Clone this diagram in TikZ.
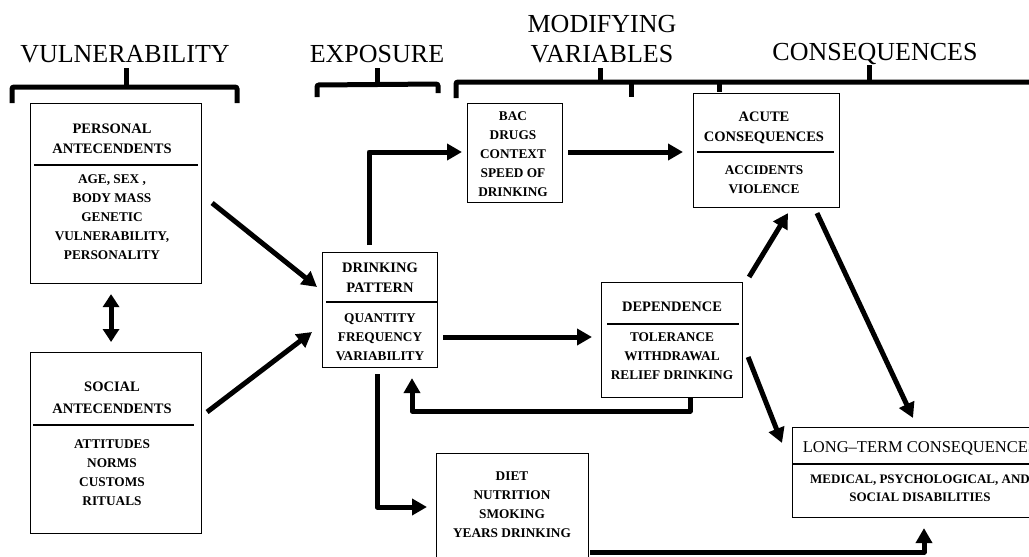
\documentclass[tikz,border=0pt]{standalone}
\usepackage{fontspec}
\setmainfont{Liberation Serif}
\usetikzlibrary{arrows.meta,calc}
\begin{document}
\begin{tikzpicture}[x=1pt,y=-1pt,
  box/.style={draw,line width=1.1pt,inner sep=0pt,anchor=north west},
  ttl/.style={font=\bfseries\fontsize{14.5}{20}\selectfont,align=center,inner sep=0pt},
  bdy/.style={font=\bfseries\fontsize{13.3}{19}\selectfont,align=center,inner sep=0pt},
  hdr/.style={font=\fontsize{26}{30}\selectfont,inner sep=0pt},
  sepline/.style={line width=1.5pt},
  arr/.style={line width=5pt,line join=round,-{Triangle[length=15pt,width=16pt]}},
  dbl/.style={line width=5pt,{Triangle[length=13pt,width=16pt]}-{Triangle[length=13pt,width=16pt]}},
  brk/.style={line width=5pt,rounded corners=2pt},
]
\useasboundingbox (0,0) rectangle (1029,557);
\clip (0,0) rectangle (1029,557);

% headers
\node[hdr] (hvul) at (125,54) {VULNERABILITY};
\node[hdr] (hexp) at (377,54) {EXPOSURE};
\node[hdr] (hmod) at (602,24) {MODIFYING};
\node[hdr] (hvar) at (602,54) {VARIABLES};
\node[hdr] (hcon) at (875,54) {CONSEQUENCES};

% brackets
\draw[brk] (12,103) -- (12,87) -- (237,87) -- (237,103);
\draw[brk] (126,87) -- (126,68);
\draw[brk] (317,97) -- (317,85) -- (438,84) -- (438,93);
\draw[brk] (377,85) -- (377,68);
\draw[brk] (456,98) -- (456,82) -- (1040,82);
\draw[brk] (600,82) -- (600,68);
\draw[brk] (631,82) -- (631,97);
\draw[brk] (719,82) -- (719,92);
\draw[brk] (869,82) -- (869,65);

% boxes
\node[box,minimum width=171pt,minimum height=180pt] (pers) at (30,103) {};
\node[box,minimum width=171pt,minimum height=181pt] (soc) at (30,352) {};
\node[box,minimum width=115pt,minimum height=115pt] (dp) at (322,252) {};
\node[box,minimum width=95pt,minimum height=99pt] (bac) at (467,103) {};
\node[box,minimum width=146pt,minimum height=114pt] (ac) at (693,93) {};
\node[box,minimum width=141pt,minimum height=115pt] (dep) at (601,282) {};
\node[box,minimum width=256pt,minimum height=90pt] (lt) at (792,427) {};
\node[box,minimum width=152pt,minimum height=130pt] (diet) at (436,453) {};

% separators
\draw[sepline] ($(pers.north west)+(4,62)$) -- ($(pers.north east)+(-4,62)$);
\draw[sepline] ($(soc.north west)+(3,73)$) -- ($(soc.north east)+(-8,73)$);
\draw[sepline] ($(dp.north west)+(4,50)$) -- ($(dp.north east)+(0,50)$);
\draw[sepline] ($(ac.north west)+(4,59)$) -- ($(ac.north east)+(-6,59)$);
\draw[sepline] ($(dep.north west)+(6,42)$) -- ($(dep.north east)+(-4,42)$);
\draw[sepline] ($(lt.north west)+(0,37)$) -- ($(lt.north east)+(0,37)$);

% texts
\node[ttl] (perst) at (112,139) {PERSONAL\\ANTECENDENTS};
\node[bdy] (persb) at (112,217) {AGE, SEX ,\\BODY MASS\\GENETIC\\VULNERABILITY,\\PERSONALITY};
\node[ttl,font=\bfseries\fontsize{14.5}{22}\selectfont] (soct) at (112,398) {SOCIAL\\ANTECENDENTS};
\node[bdy] (socb) at (112,472.5) {ATTITUDES\\NORMS\\CUSTOMS\\RITUALS};
\node[ttl] (dpt) at (380,278) {DRINKING\\PATTERN};
\node[bdy] (dpb) at (380,337) {QUANTITY\\FREQUENCY\\VARIABILITY};
\node[bdy] (bacb) at (513,154) {BAC\\DRUGS\\CONTEXT\\SPEED OF\\DRINKING};
\node[ttl] (act) at (764,128) {ACUTE\\CONSEQUENCES};
\node[bdy] (acb) at (764,179.5) {ACCIDENTS\\VIOLENCE};
\node[ttl] (dept) at (672,307) {DEPENDENCE};
\node[bdy] (depb) at (672,356) {TOLERANCE\\WITHDRAWAL\\RELIEF DRINKING};
\node[font=\fontsize{16.5}{20}\selectfont,inner sep=0pt] (ltt) at (920,448) {LONG–TERM CONSEQUENCES};
\node[bdy,font=\bfseries\fontsize{13}{18}\selectfont] (ltb) at (920,488) {MEDICAL, PSYCHOLOGICAL, AND\\SOCIAL DISABILITIES};
\node[bdy] (dietb) at (512,505) {DIET\\NUTRITION\\SMOKING\\YEARS DRINKING};

% connectors
\draw[arr] ($(pers.north east)+(10,100)$) -- ($(dp.north west)+(-5,35)$);
\draw[arr] ($(soc.north east)+(5,60)$) -- ($(dp.north west)+(-10,80)$);
\draw[arr] ($(dp.north west)+(47,-7)$) |- ($(bac.north west)+(-5,49)$);
\draw[arr] ($(bac.north east)+(5,49)$) -- ($(ac.north west)+(-10,59)$);
\draw[arr] ($(dp.north east)+(5,85)$) -- ($(dep.north west)+(-9,55)$);
\draw[arr] ($(dep.south west)+(89,0)$) -- ++(0,13) -| ($(dp.south west)+(90,10)$);
\draw[arr] ($(dp.south west)+(55,6)$) |- ($(diet.north west)+(-9,54)$);
\draw[arr] ($(dep.north east)+(6,-5)$) -- ($(ac.south west)+(95,5)$);
\draw[arr] ($(ac.south west)+(124,5)$) -- ($(lt.north west)+(121,-9)$);
\draw[arr] ($(dep.north east)+(5,75)$) -- ($(lt.north west)+(-10,16)$);
\draw[arr] ($(diet.north west)+(154,99)$) -| ($(lt.south west)+(132,10)$);
\draw[dbl] ($(pers.south)+(-5,10)$) -- ($(soc.north)+(-5,-10)$);
\end{tikzpicture}
\end{document}
